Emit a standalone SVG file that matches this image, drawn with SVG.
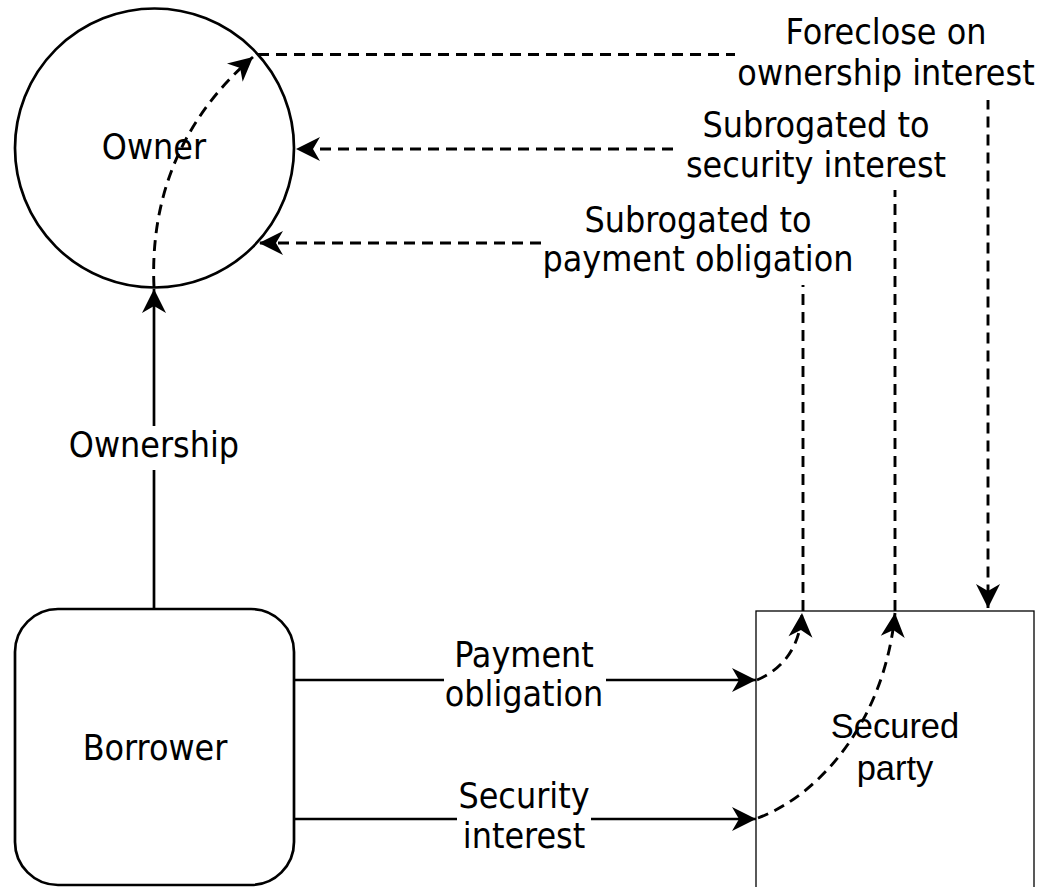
<svg xmlns="http://www.w3.org/2000/svg" width="1043" height="887" viewBox="0 0 1043 887">
<style>
.ln{fill:none;stroke:#000;stroke-width:2.7}
.ds{fill:none;stroke:#000;stroke-width:2.9;stroke-dasharray:11 7}
.t{font-family:"DejaVu Sans Condensed","DejaVu Sans",sans-serif;font-stretch:condensed;font-size:35.5px;fill:#000;text-anchor:middle;font-variant-ligatures:none}
.ta{font-family:"Liberation Sans",Arial,sans-serif;font-size:34.5px;fill:#000;text-anchor:middle}
.bg{fill:#fff;stroke:none}
</style>
<defs>
<marker id="ah" viewBox="-25 -13 26 26" refX="0" refY="0" markerWidth="26" markerHeight="26" markerUnits="userSpaceOnUse" orient="auto">
<path d="M0,0 L-24,-12 L-17,0 L-24,12 Z" fill="#000"/>
</marker>
</defs>
<rect width="1043" height="887" fill="#fff"/>
<g id="owner">
<circle cx="154.5" cy="148" r="139.5" class="ln"/>
<text class="t" x="154" y="159">Owner</text>
</g>
<g id="borrower">
<rect x="15" y="609" width="279" height="276" rx="43" ry="43" class="ln"/>
<text class="t" x="155" y="760">Borrower</text>
</g>
<g id="secured-party">
<rect x="756" y="611" width="278" height="300" fill="none" stroke="#000" stroke-width="1.3"/>
</g>
<g id="connectors">
<path class="ln" d="M154,609 V289" marker-end="url(#ah)"/>
<path class="ds" d="M154,287 C150,200 180,120 253,57" marker-end="url(#ah)"/>
<path class="ds" d="M258,54.5 H988 V608" marker-end="url(#ah)"/>
<path class="ds" d="M895,611 V149 H296" marker-end="url(#ah)"/>
<path class="ds" d="M803,611 V243 H259" marker-end="url(#ah)"/>
<path class="ln" d="M294,680 H756" marker-end="url(#ah)"/>
<path class="ln" d="M294,819 H756" marker-end="url(#ah)"/>
<path class="ds" d="M757,680 C785,668 800,645 802,613" marker-end="url(#ah)"/>
<path class="ds" d="M758,818 C820,795 885,720 895,613" marker-end="url(#ah)"/>
</g>
<g id="labels">
<rect class="bg" x="66" y="426" width="176" height="44"/>
<text class="t" x="154" y="457">Ownership</text>
<rect class="bg" x="444" y="640" width="162" height="76"/>
<text class="t" x="524" y="667">Payment</text>
<text class="t" x="524" y="706">obligation</text>
<rect class="bg" x="457" y="778" width="134" height="78"/>
<text class="t" x="524" y="808">Security</text>
<text class="t" x="524" y="848">interest</text>
<rect class="bg" x="735" y="15" width="306" height="85"/>
<text class="t" x="886" y="44">Foreclose on</text>
<text class="t" x="886" y="85">ownership interest</text>
<rect class="bg" x="676" y="106" width="280" height="84"/>
<text class="t" x="816" y="137">Subrogated to</text>
<text class="t" x="816" y="177">security interest</text>
<rect class="bg" x="542" y="202" width="314" height="83"/>
<text class="t" x="698" y="232">Subrogated to</text>
<text class="t" x="698" y="271">payment obligation</text>
</g>
<g id="secured-party-label">
<text class="ta" x="895" y="738">Secured</text>
<text class="ta" x="895" y="780">party</text>
</g>
</svg>
